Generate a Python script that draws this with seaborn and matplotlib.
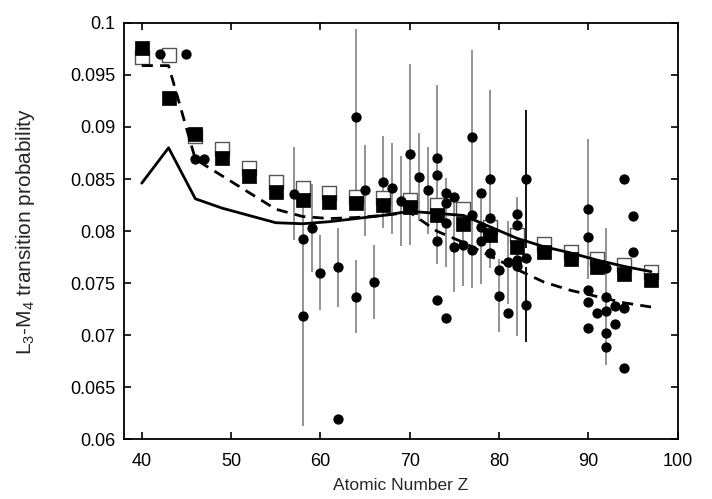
import matplotlib
matplotlib.use("Agg")
import matplotlib.pyplot as plt
import numpy as np
import pandas as pd
import seaborn as sns
from matplotlib.ticker import FuncFormatter, MultipleLocator

# Valores
z_calc = [40, 43, 46, 49, 52, 55, 58, 61, 64, 67, 70, 73, 76, 79, 82, 85, 88, 91, 94, 97]
quad_cheio = [0.0976, 0.0928, 0.0893, 0.0870, 0.0853, 0.0838, 0.0830, 0.0828, 0.0827, 0.0825,
              0.0823, 0.0815, 0.0807, 0.0796, 0.0785, 0.0780, 0.0773, 0.0765, 0.0759, 0.0753]
quad_aberto = [0.0967, 0.0969, 0.0891, 0.0879, 0.0861, 0.0847, 0.0841, 0.0837, 0.0833, 0.0832,
               0.0830, 0.0825, 0.0821, 0.0804, 0.0796, 0.0788, 0.0780, 0.0773, 0.0767, 0.0761]
linha_solida = [0.0846, 0.0880, 0.0831, 0.0822, 0.0815, 0.0808, 0.0807, 0.0809, 0.0812, 0.0815,
                0.0819, 0.0817, 0.0815, 0.0804, 0.0793, 0.0785, 0.0779, 0.0772, 0.0766, 0.0761]
linha_tracejada = [0.0959, 0.0959, 0.0869, 0.0853, 0.0837, 0.0821, 0.0814, 0.0812, 0.0813, 0.0815,
                   0.0818, 0.0800, 0.0789, 0.0776, 0.0763, 0.0751, 0.0743, 0.0737, 0.0731, 0.0727]

# Dados experimentais (Z, valor, erro)
z_exp = [42, 45, 46, 47, 57, 58, 58, 59, 60, 62, 62, 64, 64, 65, 66, 67, 68, 69, 70, 71, 72,
         73, 73, 73, 73, 73, 74, 74, 74, 74, 75, 75, 76, 77, 77, 77, 78, 78, 78, 79, 79, 79,
         80, 80, 81, 81, 82, 82, 82, 82, 83, 83, 83,
         90, 90, 90, 90, 90, 91, 92, 92, 92, 92, 92, 93, 93, 94, 94, 94, 95, 95]
val_exp = [0.0970, 0.0970, 0.0869, 0.0869, 0.0836, 0.0792, 0.0718, 0.0803, 0.0760, 0.0765, 0.0619,
           0.0910, 0.0737, 0.0839, 0.0751, 0.0847, 0.0841, 0.0829, 0.0874, 0.0852, 0.0839,
           0.0870, 0.0854, 0.0814, 0.0790, 0.0734, 0.0837, 0.0827, 0.0808, 0.0716, 0.0833, 0.0785,
           0.0787, 0.0890, 0.0815, 0.0782, 0.0837, 0.0804, 0.0790, 0.0850, 0.0813, 0.0779,
           0.0763, 0.0738, 0.0770, 0.0721, 0.0816, 0.0806, 0.0772, 0.0766, 0.0850, 0.0774, 0.0729,
           0.0821, 0.0794, 0.0743, 0.0732, 0.0707, 0.0721, 0.0764, 0.0737, 0.0723, 0.0702, 0.0689,
           0.0728, 0.0711, 0.0850, 0.0726, 0.0668, 0.0814, 0.0780]
err_exp = [0, 0, 0, 0, 0.0045, 0, 0.0105, 0.0042, 0.0036, 0.0038, 0,
           0.0084, 0.0035, 0.0044, 0.0036, 0.0044, 0.0044, 0.0043, 0.0087, 0.0042, 0.0042,
           0, 0.0086, 0, 0, 0, 0, 0, 0.0043, 0, 0, 0.0044,
           0.0040, 0.0084, 0, 0.0037, 0, 0, 0.0041, 0.0086, 0, 0,
           0, 0.0035, 0.0040, 0, 0, 0, 0, 0.0067, 0.0066, 0, 0.0036,
           0.0067, 0, 0, 0, 0, 0, 0, 0.0066, 0, 0, 0,
           0, 0, 0, 0, 0, 0, 0]
z_barra_preta = [83]

sns.set_style("ticks")
plt.rcParams["font.family"] = ["Liberation Sans", "DejaVu Sans"]
plt.rcParams["mathtext.default"] = "regular"

df_calc = pd.DataFrame({"Z": z_calc, "cheio": quad_cheio, "aberto": quad_aberto,
                        "solida": linha_solida, "tracejada": linha_tracejada})
df_exp = pd.DataFrame({"Z": z_exp, "valor": val_exp, "erro": err_exp})

fig = plt.figure(figsize=(7.12, 4.99), dpi=100)
ax = fig.add_axes([0.174, 0.120, 0.778, 0.834])

# Barras de erro
com_barra = df_exp[df_exp["erro"] > 0]
preta = com_barra["Z"].isin(z_barra_preta)
for mascara, cor in [(~preta, "#8a8a8a"), (preta, "black")]:
    sub = com_barra[mascara]
    ax.errorbar(sub["Z"], sub["valor"], yerr=sub["erro"], fmt="none",
                ecolor=cor, elinewidth=1.3, capsize=0, zorder=1)

# Quadrados abertos e cheios
sns.scatterplot(data=df_calc, x="Z", y="aberto", marker="s", s=95, facecolor="white",
                edgecolor="#555555", linewidth=1.0, ax=ax, zorder=2)
sns.scatterplot(data=df_calc, x="Z", y="cheio", marker="s", s=95, color="black",
                edgecolor="black", linewidth=0.5, ax=ax, zorder=3)

# Linhas teóricas
sns.lineplot(data=df_calc, x="Z", y="solida", color="black", linewidth=2.0, ax=ax, zorder=4)
sns.lineplot(data=df_calc, x="Z", y="tracejada", color="black", linewidth=2.0,
             dashes=False, ax=ax, zorder=4)
ax.lines[-1].set_dashes([4.0, 2.6])

# Pontos experimentais
sns.scatterplot(data=df_exp, x="Z", y="valor", marker="o", s=55, color="black",
                edgecolor="black", linewidth=0, ax=ax, zorder=5)

ax.set_xlim(38, 100)
ax.set_ylim(0.06, 0.1)
ax.xaxis.set_major_locator(MultipleLocator(10))
ax.yaxis.set_major_locator(MultipleLocator(0.005))
ax.yaxis.set_major_formatter(FuncFormatter(lambda v, p: f"{v:g}"))
ax.tick_params(direction="in", length=5, width=1.2, top=True, right=True,
               labelsize=13, colors="black")
ax.tick_params(axis="x", pad=10)
ax.tick_params(axis="y", pad=6)
for spine in ax.spines.values():
    spine.set_linewidth(1.3)
    spine.set_color("black")

ax.set_xlabel("Atomic Number Z", fontsize=12.5, labelpad=6)
ax.set_ylabel("L$_3$-M$_4$ transition probability", fontsize=15, labelpad=24)

fig.savefig("out.png", dpi=100)
plt.close(fig)
